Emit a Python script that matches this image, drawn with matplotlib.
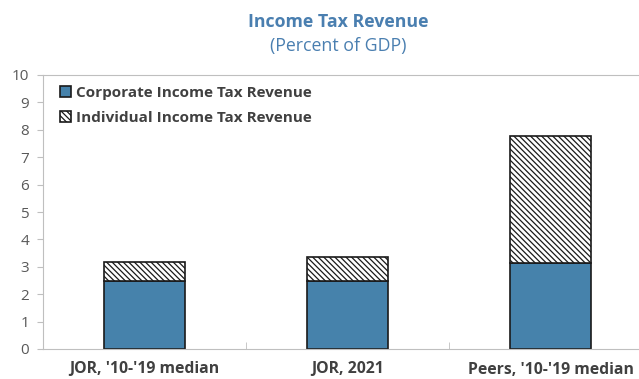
import numpy as np
import matplotlib.pyplot as plt

plt.rcParams['font.family'] = ['Open Sans', 'DejaVu Sans']
plt.rcParams['hatch.linewidth'] = 0.9

categories = ["JOR, '10-'19 median", "JOR, 2021", "Peers, '10-'19 median"]
corporate = [2.47, 2.50, 3.15]
individual = [0.69, 0.86, 4.63]

blue = '#4682ab'
title_col = '#4a7fb0'
grey = '#595959'

fig = plt.figure(figsize=(6.39, 3.79), dpi=100)
ax = fig.add_axes([43 / 639, 1 - 349 / 379, 609 / 639, 274 / 379])

x = np.arange(len(categories))
ax.bar(x, corporate, width=0.4, color=blue, edgecolor='#1a1a1a', linewidth=1.2,
       label='Corporate Income Tax Revenue')
ax.bar(x, individual, width=0.4, bottom=corporate, color='white', edgecolor='#1a1a1a',
       linewidth=1.2, hatch='\\\\\\\\\\\\', label='Individual Income Tax Revenue')

ax.set_xlim(-0.5, 2.5)
ax.set_ylim(0, 10)
ax.set_yticks(range(0, 11))
ax.set_xticks(x)
ax.set_xticklabels(categories, fontweight='bold', fontsize=11.3, color='#404040')
ax.set_xticks([0.5, 1.5], minor=True)
ax.tick_params(axis='x', which='major', length=0, pad=9)
ax.tick_params(axis='x', which='minor', length=5, direction='in', color='#bfbfbf')
ax.tick_params(axis='y', length=4, color='#bfbfbf', labelcolor=grey, labelsize=11, pad=6)
for s in ['left', 'bottom', 'top']:
    ax.spines[s].set_color('#bfbfbf')
ax.spines['right'].set_visible(False)

leg = ax.legend(loc='upper left', frameon=False, prop={'weight': 'bold', 'size': 11},
                handlelength=0.75, handleheight=0.75, handletextpad=0.3, labelspacing=0.75,
                borderaxespad=0.3, bbox_to_anchor=(0.01, 1.0))
for t in leg.get_texts():
    t.set_color('#404040')

fig.text(0.53, 1 - 22 / 379, 'Income Tax Revenue', ha='center', va='center',
         fontsize=12.8, fontweight='bold', color=title_col)
fig.text(0.53, 1 - 46 / 379, '(Percent of GDP)', ha='center', va='center',
         fontsize=12.8, color=title_col)

fig.savefig('out.png', dpi=100)
